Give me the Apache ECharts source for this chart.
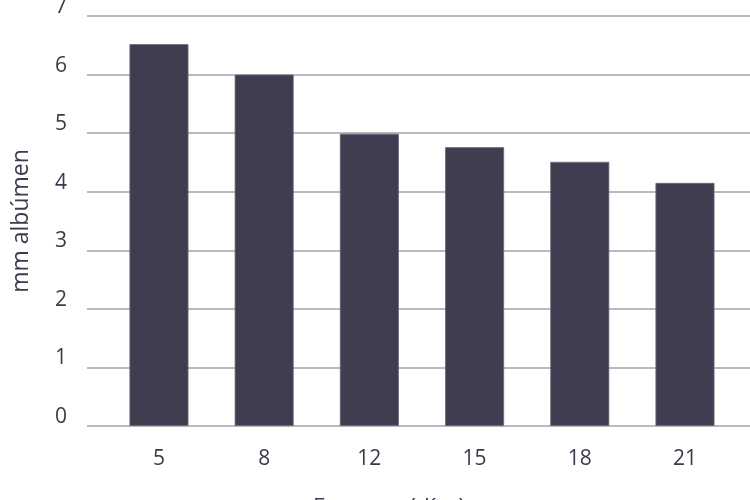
<!DOCTYPE html>
<html>
<head>
<meta charset="utf-8">
<script src="https://cdn.jsdelivr.net/npm/echarts@6/dist/echarts.min.js"></script>
<style>html,body{margin:0;padding:0;background:#fff;}#c{width:750px;height:500px;}</style>
</head>
<body>
<div id="c"></div>
<script>
var categories = ['5', '8', '12', '15', '18', '21'];
var values = [6.52, 6.0, 4.99, 4.76, 4.51, 4.15];
var yTicks = [0, 1, 2, 3, 4, 5, 6, 7];
var yTitle = 'mm albúmen';
var xTitle = 'Frescura (días)';

var textColor = '#3c3a4c';
var font = 'Open Sans';
var chart = echarts.init(document.getElementById('c'));
chart.setOption({
  animation: false,
  grid: { left: 87, right: 0, top: 16, bottom: 74, containLabel: false, outerBoundsMode: 'none' },
  xAxis: {
    type: 'value',
    min: -0.684,
    max: 5.618,
    axisLine: { show: false },
    axisTick: { show: false },
    splitLine: { show: false },
    axisLabel: {
      customValues: categories.map(function (c, i) { return i; }),
      formatter: function (v) { return categories[Math.round(v)]; },
      color: textColor, fontFamily: font, fontSize: 21, margin: 23
    }
  },
  yAxis: {
    type: 'value',
    min: yTicks[0],
    max: yTicks[yTicks.length - 1],
    interval: 1,
    name: yTitle,
    nameLocation: 'middle',
    nameRotate: 90,
    nameGap: 54,
    nameTextStyle: { color: textColor, fontFamily: font, fontSize: 23 },
    axisLine: { show: false },
    axisTick: { show: false },
    axisLabel: {
      color: textColor, fontFamily: font, fontSize: 21, margin: 20,
      verticalAlign: 'bottom', lineHeight: 18
    },
    splitLine: { lineStyle: { color: '#a3a2ab', width: 1.5 } }
  },
  graphic: [{
    type: 'text',
    left: 313,
    top: 496,
    style: { text: xTitle, fill: textColor, font: '22.5px "Open Sans"' }
  }],
  series: [{
    type: 'bar',
    barWidth: 59,
    data: values.map(function (v, i) { return [i, v]; }),
    itemStyle: { color: '#403d50', borderColor: '#6a6878', borderWidth: 0.8 }
  }]
});
</script>
</body>
</html>
